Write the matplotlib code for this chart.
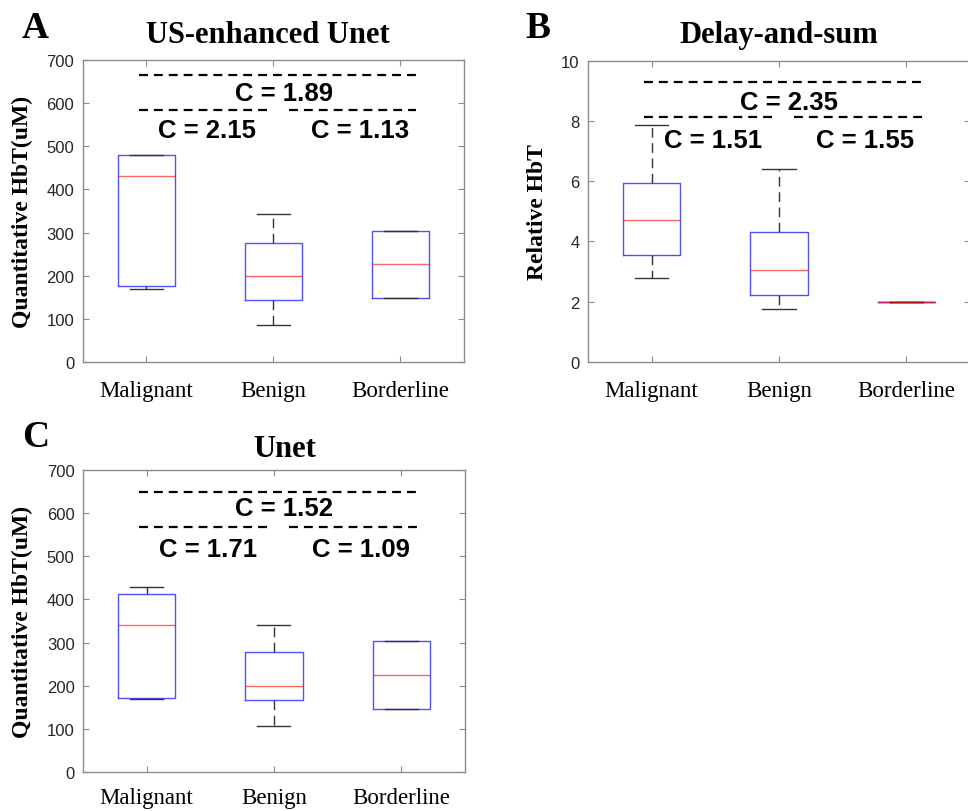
import numpy as np
import matplotlib
matplotlib.use("Agg")
import matplotlib.pyplot as plt

groups = ["Malignant", "Benign", "Borderline"]

# box statistics: lower whisker, q1, median, q3, upper whisker
a_lo = [170, 85, 149]
a_q1 = [176, 143, 149]
a_med = [430, 200, 227]
a_q3 = [480, 275, 304]
a_hi = [480, 342, 304]

b_lo = [2.8, 1.75, 2.0]
b_q1 = [3.55, 2.22, 2.0]
b_med = [4.7, 3.05, 2.0]
b_q3 = [5.93, 4.32, 2.0]
b_hi = [7.85, 6.4, 2.0]

c_lo = [169, 107, 145]
c_q1 = [171, 167, 145]
c_med = [340, 200, 224]
c_q3 = [413, 277, 304]
c_hi = [428, 340, 304]

# contrast labels: all three, malignant vs benign, benign vs borderline
a_contrast = ["C = 1.89", "C = 2.15", "C = 1.13"]
b_contrast = ["C = 2.35", "C = 1.51", "C = 1.55"]
c_contrast = ["C = 1.52", "C = 1.71", "C = 1.09"]

SERIF = "Liberation Serif"
SANS = "Liberation Sans"
TICK_COLOR = "#262626"
SPINE_COLOR = "#8c8c8c"


def make_stats(lo, q1, med, q3, hi):
    return [dict(whislo=lo[i], q1=q1[i], med=med[i], q3=q3[i], whishi=hi[i],
                 fliers=[], label=groups[i]) for i in range(len(groups))]


def draw_panel(ax, stats, ymax, yticks, ylabel, title, title_x, title_pad,
               contrast, lines_y, text_y, ylabel_x, xpad=13):
    ax.bxp(stats, positions=[1, 2, 3], widths=0.45, capwidths=0.26,
           showfliers=False, patch_artist=False,
           boxprops=dict(color="#5050ff", linewidth=1.0),
           medianprops=dict(color="red", linewidth=1.0, alpha=0.6),
           whiskerprops=dict(color="#333333", linewidth=1.0, linestyle=(0, (7, 4))),
           capprops=dict(color="#333333", linewidth=1.0))

    ax.set_xlim(0.5, 3.5)
    ax.set_ylim(0, ymax)
    ax.set_yticks(yticks)
    ax.set_xticks([1, 2, 3])
    ax.set_xticklabels(groups, fontfamily=SERIF, fontsize=16.5, color="black")
    for lab in ax.get_yticklabels():
        lab.set_fontfamily(SANS)
        lab.set_fontsize(12)
        lab.set_color(TICK_COLOR)
    ax.tick_params(axis="both", direction="in", top=True, right=True,
                   color=SPINE_COLOR, length=4)
    ax.tick_params(axis="x", pad=xpad)
    ax.tick_params(axis="y", pad=6)
    for sp in ax.spines.values():
        sp.set_color(SPINE_COLOR)
        sp.set_linewidth(1.0)

    ax.set_ylabel(ylabel, fontfamily=SERIF, fontweight="bold", fontsize=17)
    ax.yaxis.set_label_coords(ylabel_x, 0.5)
    ax.set_title(title, fontfamily=SERIF, fontweight="bold", fontsize=22,
                 x=title_x, pad=title_pad)

    dash = dict(color="black", linewidth=1.6, linestyle=(0, (4, 2.7)))
    ax.plot([0.94, 3.12], [lines_y[0]] * 2, **dash)
    ax.plot([0.94, 1.96], [lines_y[1]] * 2, **dash)
    ax.plot([2.12, 3.12], [lines_y[1]] * 2, **dash)

    tkw = dict(fontfamily=SANS, fontweight="bold", fontsize=18.5,
               ha="center", va="baseline")
    ax.text(2.08, text_y[0], contrast[0], **tkw)
    ax.text(1.48, text_y[1], contrast[1], **tkw)
    ax.text(2.68, text_y[1], contrast[2], **tkw)


fig = plt.figure(figsize=(9.68, 8.12), dpi=100)

ax_a = fig.add_axes([0.0854, 0.553, 0.394, 0.372])
ax_b = fig.add_axes([0.6074, 0.553, 0.3946, 0.371])
ax_c = fig.add_axes([0.0857, 0.048, 0.3946, 0.372])

draw_panel(ax_a, make_stats(a_lo, a_q1, a_med, a_q3, a_hi), 700,
           np.arange(0, 701, 100), "Quantitative HbT(uM)", "US-enhanced Unet",
           0.486, 13, a_contrast, [665, 583], [607, 521], -0.13)
draw_panel(ax_b, make_stats(b_lo, b_q1, b_med, b_q3, b_hi), 10,
           np.arange(0, 11, 2), "Relative HbT", "Delay-and-sum",
           0.5, 13.5, b_contrast, [9.3, 8.13], [8.4, 7.14], -0.105)
draw_panel(ax_c, make_stats(c_lo, c_q1, c_med, c_q3, c_hi), 700,
           np.arange(0, 701, 100), "Quantitative HbT(uM)", "Unet",
           0.529, 10, c_contrast, [650, 568], [596, 501], -0.13, xpad=11)

letter = dict(fontfamily=SERIF, fontweight="bold", fontsize=27, va="baseline")
fig.text(22 / 968, 1 - 38 / 812, "A", **letter)
fig.text(525 / 968, 1 - 38 / 812, "B", **letter)
fig.text(22 / 968, 1 - 447 / 812, "C", **letter)

fig.savefig("out.png", dpi=100)
